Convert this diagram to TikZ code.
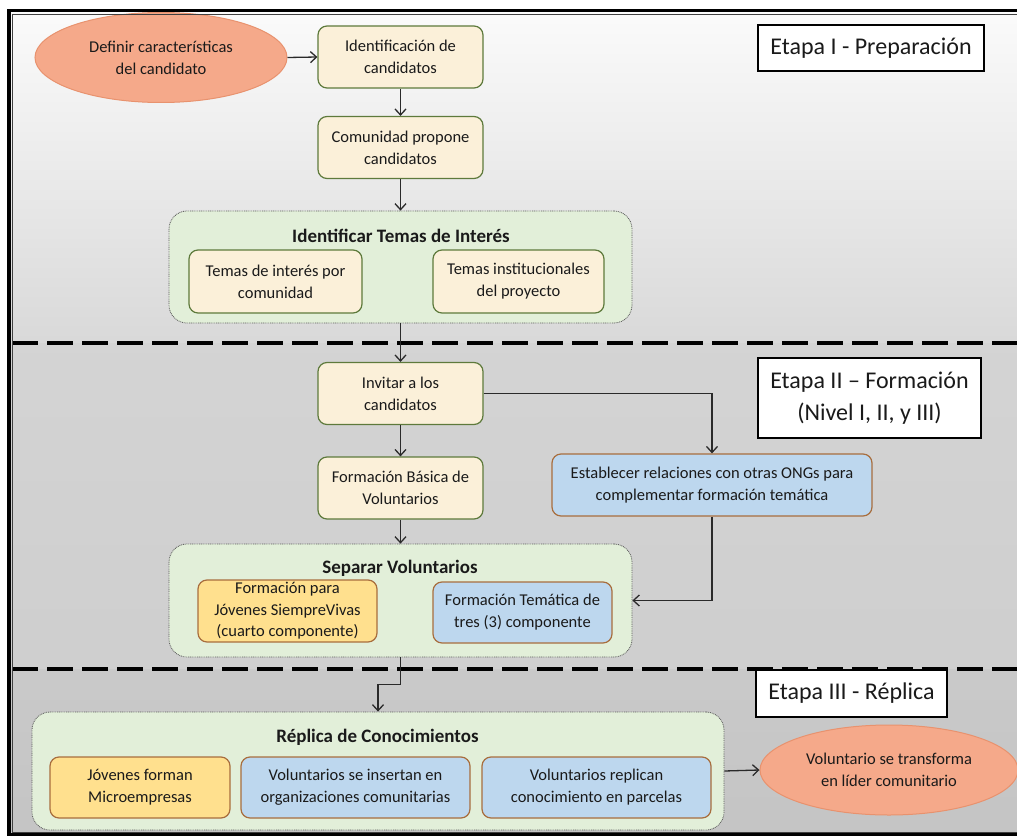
\documentclass[tikz,border=0pt]{standalone}
\usepackage{fontspec}
\setmainfont{Carlito}
\usetikzlibrary{arrows.meta,shapes.geometric,calc}
\definecolor{creamfill}{HTML}{FBF0D9}
\definecolor{creamdraw}{HTML}{5E7A3C}
\definecolor{grpfill}{HTML}{E2EFD9}
\definecolor{grpdraw}{HTML}{5A5A5A}
\definecolor{orfill}{HTML}{FFE08E}
\definecolor{bluefill}{HTML}{BDD7EE}
\definecolor{browndraw}{HTML}{A86E3E}
\definecolor{salfill}{HTML}{F5A98A}
\definecolor{saldraw}{HTML}{E8926E}
\definecolor{conncol}{HTML}{2A2A2A}
\definecolor{txt}{HTML}{1A1A1A}
\begin{document}
\begin{tikzpicture}[x=1pt,y=-1pt,
  every node/.style={text=txt},
  basebox/.style={rectangle, rounded corners=9pt, line width=1.2pt, inner sep=0pt, align=center,
    font=\fontsize{16.5}{22}\selectfont},
  cream/.style={basebox, fill=creamfill, draw=creamdraw, minimum width=165pt, minimum height=62pt},
  orbox/.style={basebox, fill=orfill, draw=browndraw},
  bluebox/.style={basebox, fill=bluefill, draw=browndraw},
  grp/.style={rectangle, rounded corners=18pt, fill=grpfill, draw=grpdraw, line width=0.8pt,
    dash pattern=on 0.9pt off 0.9pt, inner sep=0pt},
  grptitle/.style={inner sep=0pt, font=\bfseries\fontsize{19}{22}\selectfont},
  oval/.style={ellipse, fill=salfill, draw=saldraw, line width=1pt, inner sep=0pt, align=center,
    font=\fontsize{16.5}{22}\selectfont},
  stagebox/.style={rectangle, draw=black, fill=white, line width=1.3pt, inner sep=0pt, align=center,
    font=\fontsize{24}{32}\selectfont},
  conn/.style={draw=conncol, line width=1.3pt, -{Straight Barb[length=6pt,width=11pt,line width=1.3pt]}},
  sep/.style={draw=black, line width=4pt, dash pattern=on 26pt off 9pt}
]
\useasboundingbox (0,0) rectangle (1017,837);
\fill[white] (0,0) rectangle (1017,837);
% background bands
\shade[top color=white!60!gray!8, bottom color=black!15] (9,10) rectangle (1030,343);
\shade[top color=black!17, bottom color=black!19] (9,343) rectangle (1030,669);
\shade[top color=black!21, bottom color=black!23] (9,669) rectangle (1030,834);
% separators
\draw[sep] (12,343) -- (1030,343);
\draw[sep] (12,669) -- (1030,669);

% stage labels
\node[stagebox, minimum width=226pt, minimum height=46pt] (s1) at (871,48) {Etapa I - Preparación};
\node[stagebox, minimum width=223pt, minimum height=80pt] (s2) at (869.5,398) {Etapa II – Formación\\(Nivel I, II, y III)};
\node[stagebox, minimum width=191pt, minimum height=47pt] (s3) at (851.5,693.5) {Etapa III - Réplica};

% stage I
\node[oval, minimum width=252pt, minimum height=90pt] (ell1) at (161,57.5) {Definir características\\del candidato};
\node[cream] (id1) at (400.5,57) {Identificación de\\candidatos};
\node[cream] (com) at (400.5,147.5) {Comunidad propone\\candidatos};
\node[grp, minimum width=463pt, minimum height=112pt] (g1) at (400.5,267) {};
\node[grptitle] (g1t) at (401,236) {Identificar Temas de Interés};
\node[cream, minimum width=173pt, minimum height=63pt] (t1) at (275.5,281.5) {Temas de interés por\\comunidad};
\node[cream, minimum width=171pt, minimum height=63pt] (t2) at (518.5,281.5) {Temas institucionales\\del proyecto};

% stage II
\node[cream] (inv) at (400.5,393.5) {Invitar a los\\candidatos};
\node[cream] (fb) at (400.5,488) {Formación Básica de\\Voluntarios};
\node[bluebox, minimum width=320pt, minimum height=62pt] (est) at (712,485) {Establecer relaciones con otras ONGs para\\complementar formación temática};
\node[grp, minimum width=463pt, minimum height=113pt] (g2) at (400.5,600.5) {};
\node[grptitle] (g2t) at (400,568) {Separar Voluntarios};
\node[orbox, minimum width=179pt, minimum height=62pt, font=\fontsize{16.5}{21.5}\selectfont] (fj) at (287.5,611) {Formación para\\Jóvenes SiempreVivas\\(cuarto componente)};
\node[bluebox, minimum width=179pt, minimum height=61pt] (ft) at (522.5,612.5) {Formación Temática de\\tres (3) componente};

% stage III
\node[grp, minimum width=692pt, minimum height=118pt] (g3) at (378,771) {};
\node[grptitle] (g3t) at (377.5,737) {Réplica de Conocimientos};
\node[orbox, minimum width=180pt, minimum height=61pt] (jm) at (140,787.5) {Jóvenes forman\\Microempresas};
\node[bluebox, minimum width=229pt, minimum height=61pt] (vi) at (355.5,787.5) {Voluntarios se insertan en\\organizaciones comunitarias};
\node[bluebox, minimum width=229pt, minimum height=61pt] (vr) at (596.5,787.5) {Voluntarios replican\\conocimiento en parcelas};
\node[oval, minimum width=258pt, minimum height=90pt] (ell2) at (889,770) {Voluntario se transforma\\en líder comunitario};

% connectors
\draw[conn] (ell1.east) -- (id1.west);
\draw[conn] (id1.south) -- (com.north);
\draw[conn] (com.south) -- (g1.north);
\draw[conn] (g1.south) -- (inv.north);
\draw[conn] (inv.east) -| (est.north);
\draw[conn] (inv.south) -- (fb.north);
\draw[conn] (fb.south) -- (g2.north);
\draw[conn] (est.south) |- (g2.east);
\draw[conn] (g2.south) -- ++(0,27) -| (g3.north);
\draw[conn] (g3.east) -- (ell2.west);

% frame
\draw[black, line width=3.5pt] (9,10.5) rectangle (1040,834.5);
\draw[black!75, line width=0.7pt] (12.8,14.5) rectangle (1040,832);
\end{tikzpicture}
\end{document}
